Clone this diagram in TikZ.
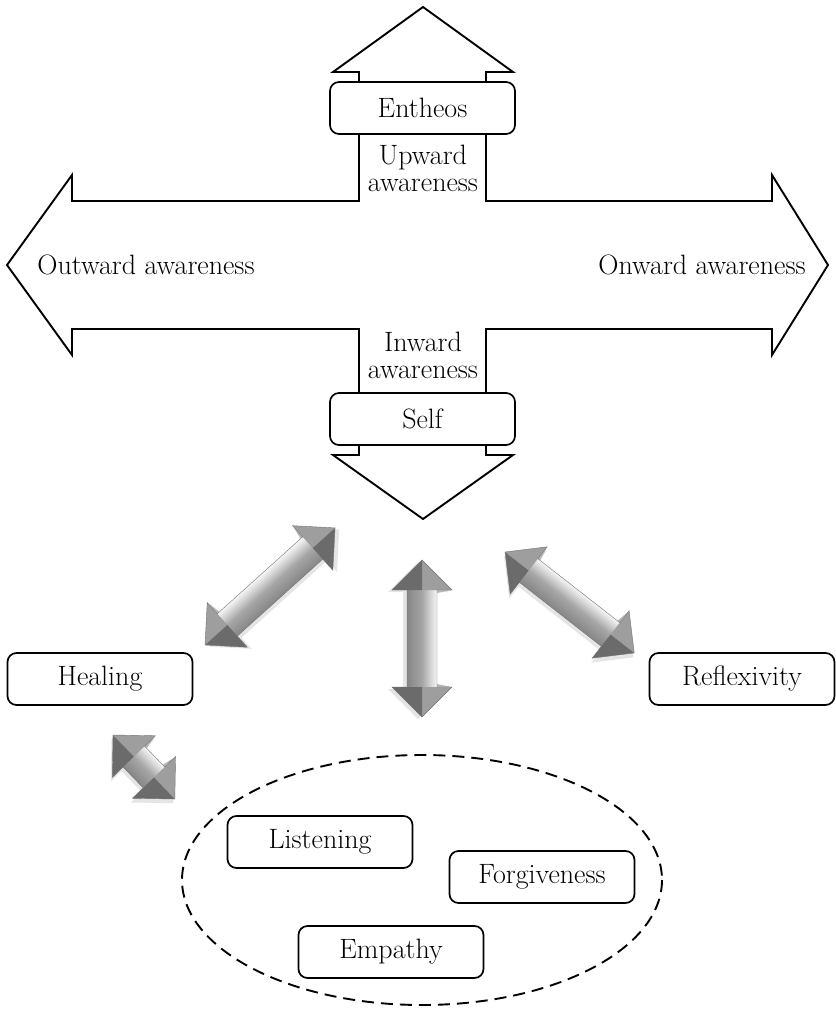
\documentclass[tikz,border=0pt]{standalone}
\usepackage{fontspec}
\usetikzlibrary{shapes.geometric}
\pgfdeclareverticalshading{metalshaft}{100bp}{color(0bp)=(black!58); color(20bp)=(black!50); color(50bp)=(black!35); color(68bp)=(black!12); color(78bp)=(white); color(88bp)=(black!22); color(100bp)=(black!52)}
\newcommand\metalarrow[4]{%
  \begin{scope}[x=1pt,y=1pt,transform canvas={shift={(#1,-#2)},rotate=#3}]
    \pgfmathsetmacro\La{#4}\pgfmathsetmacro\Lb{#4-30}
    \fill[black,opacity=0.10] (2,-4) -- (32,26) -- (32,11) -- (\Lb+2,11) -- (\Lb+2,26) -- (\La+2,-4) -- (\Lb+2,-34) -- (\Lb+2,-19) -- (32,-19) -- (32,-34) -- cycle;
    \shade[shading=metalshaft] (29,-15) rectangle (\Lb+1,15);
    \fill[black!38] (0,0) -- (30,30) -- (30,0) -- cycle;
    \fill[black!58] (0,0) -- (30,-30) -- (30,0) -- cycle;
    \fill[black!38] (\La,0) -- (\Lb,30) -- (\Lb,0) -- cycle;
    \fill[black!58] (\La,0) -- (\Lb,-30) -- (\Lb,0) -- cycle;
    \fill[black!28] (30,30) -- (30,15) -- (33,15) -- cycle;
    \fill[black!28] (\Lb,30) -- (\Lb,15) -- (\Lb-3,15) -- cycle;
    \draw[black!55,line width=0.4pt,line join=miter] (0,0) -- (30,30) -- (30,15) -- (\Lb,15) -- (\Lb,30) -- (\La,0) -- (\Lb,-30) -- (\Lb,-15) -- (30,-15) -- (30,-30) -- cycle;
  \end{scope}}
\tikzset{
  box/.style={draw, line width=1.7pt, rounded corners=9pt, minimum width=185pt, minimum height=52pt, fill=white, inner sep=0pt, font=\fontsize{28}{30}\selectfont},
  lbl/.style={align=center, inner sep=0pt, font=\fontsize{28}{27}\selectfont},
  outline/.style={draw, line width=1.9pt, line join=miter},
  group/.style={draw, dashed, line width=1.9pt, dash pattern=on 12pt off 7pt}
}
\begin{document}
\begin{tikzpicture}[x=1pt,y=-1pt]
\path[use as bounding box] (0,0) rectangle (835,1011);
% cross of four arrows
\draw[outline] (423,7) -- (513,72) -- (486,72) -- (486,201) -- (772,201) -- (772,175) -- (828,265) -- (772,355) -- (772,329) -- (486,329) -- (486,455) -- (513,455) -- (423,519) -- (333,455) -- (359,455) -- (359,329) -- (72,329) -- (72,355) -- (7,265) -- (72,175) -- (72,201) -- (359,201) -- (359,72) -- (333,72) -- cycle;
\node[box] (entheos) at (422.5,108) {Entheos};
\node[box] (self) at (422.5,419) {Self};
\node[lbl] (up) at (423,168) {Upward\\awareness};
\node[lbl] (in) at (423,355) {Inward\\awareness};
\node[lbl] (out) at (146,265) {Outward\hspace{0.3em}awareness};
\node[lbl] (on) at (702,265) {Onward\hspace{0.3em}awareness};
% lower nodes
\node[box] (healing) at (100,679) {Healing};
\node[box] (reflex) at (742,679) {Reflexivity};
\draw[group] (422,880) ellipse [x radius=240, y radius=125];
\node[box] (listening) at (320,842) {Listening};
\node[box] (forgive) at (542,877) {Forgiveness};
\node[box] (empathy) at (391,952) {Empathy};
% metallic double arrows
\metalarrow{205}{645}{42}{175}
\metalarrow{422}{560}{-90}{157}
\metalarrow{505}{552}{-38}{164}
\metalarrow{113}{735}{-46}{89}
\end{tikzpicture}
\end{document}
